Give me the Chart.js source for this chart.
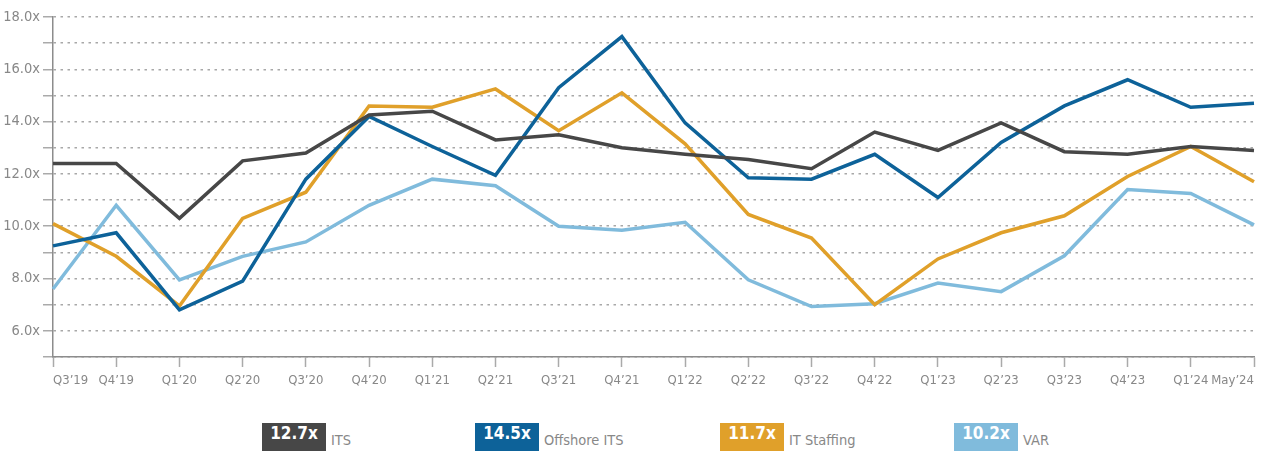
<!DOCTYPE html>
<html>
<head>
<meta charset="utf-8">
<script src="https://cdn.jsdelivr.net/npm/chart.js@4.4.1/dist/chart.umd.min.js"></script>
<style>
  html, body { margin: 0; padding: 0; background: #fff; }
  #wrap { position: relative; width: 1267px; height: 451px; }
  #box { position: absolute; left: 0; top: 0; width: 1267px; height: 400px; }
  #legend { position: absolute; left: 0; top: 423px; width: 1267px; height: 28px; }
  .item { position: absolute; top: 0; display: flex; align-items: center; height: 28px; }
  .val {
    width: 64px; height: 28px; line-height: 30px; text-align: center; color: #fff;
    font: bold 17px 'Liberation Sans Narrow', 'DejaVu Sans Condensed', Roboto, sans-serif;
  }
  .lbl {
    margin-left: 5px; padding-top: 5px; color: #888;
    font: 14.5px 'Liberation Sans Narrow', 'DejaVu Sans Condensed', Roboto, sans-serif;
  }
</style>
</head>
<body>
<div id="wrap">
  <div id="box"><canvas id="chart"></canvas></div>
  <div id="legend"></div>
</div>
<script>
// データ
var categories = ["Q3’19", "Q4’19", "Q1’20", "Q2’20", "Q3’20", "Q4’20", "Q1’21", "Q2’21", "Q3’21", "Q4’21",
                  "Q1’22", "Q2’22", "Q3’22", "Q4’22", "Q1’23", "Q2’23", "Q3’23", "Q4’23", "Q1’24", "May’24"];
var its      = [12.4, 12.4, 10.3, 12.5, 12.8, 14.25, 14.4, 13.3, 13.5, 13.0, 12.75, 12.55, 12.2, 13.6, 12.9, 13.95, 12.85, 12.75, 13.05, 12.9];
var offshore = [9.25, 9.75, 6.8, 7.9, 11.8, 14.2, 13.05, 11.95, 15.3, 17.25, 13.95, 11.85, 11.8, 12.75, 11.1, 13.2, 14.6, 15.6, 14.55, 14.7];
var staffing = [10.1, 8.85, 6.95, 10.3, 11.3, 14.6, 14.55, 15.25, 13.65, 15.1, 13.15, 10.45, 9.55, 7.0, 8.75, 9.75, 10.4, 11.9, 13.05, 11.7];
var varData  = [7.6, 10.8, 7.95, 8.85, 9.4, 10.8, 11.8, 11.55, 10.0, 9.85, 10.15, 7.95, 6.93, 7.04, 7.83, 7.5, 8.87, 11.4, 11.25, 10.05];

var seriesNames  = ['ITS', 'Offshore ITS', 'IT Staffing', 'VAR'];
var legendValues = ['12.7x', '14.5x', '11.7x', '10.2x'];

var colors = ['#474747', '#0d6299', '#e0a02a', '#80bbdc'];
var legendLeft = [262, 475, 720, 954];
var fontFamily = "'Liberation Sans Narrow', 'DejaVu Sans Condensed', Roboto, sans-serif";

// 凡例
var legend = document.getElementById('legend');
seriesNames.forEach(function(name, i) {
  var item = document.createElement('div');
  item.className = 'item';
  item.style.left = legendLeft[i] + 'px';
  item.innerHTML = '<div class="val" style="background:' + colors[i] + '">' + legendValues[i] + '</div>' +
                   '<div class="lbl">' + name + '</div>';
  legend.appendChild(item);
});

function line(label, data, color) {
  return {
    label: label,
    data: data,
    borderColor: color,
    backgroundColor: color,
    borderWidth: 3.5,
    borderJoinStyle: 'miter',
    pointRadius: 0,
    tension: 0,
    fill: false
  };
}

var context = document.getElementById('chart').getContext('2d');
var myChart = new Chart(context, {
  type: 'line',
  data: {
    labels: categories,
    datasets: [
      line(seriesNames[0], its, colors[0]),
      line(seriesNames[1], offshore, colors[1]),
      line(seriesNames[2], staffing, colors[2]),
      line(seriesNames[3], varData, colors[3])
    ]
  },
  options: {
    responsive: true,
    maintainAspectRatio: false,
    animation: false,
    layout: { padding: { top: 17, right: 13, left: 0, bottom: 0 } },
    plugins: { legend: { display: false }, tooltip: { enabled: false } },
    scales: {
      x: {
        offset: false,
        afterFit: function(scale) { scale.height = 43; },
        grid: { drawOnChartArea: false, drawTicks: true, tickLength: 10, tickColor: '#aaa', tickWidth: 1.5 },
        border: { display: true, color: '#8c8c8c', width: 1.5 },
        ticks: {
          autoSkip: false, maxRotation: 0, align: 'inner', padding: 6,
          color: '#888', font: { family: fontFamily, size: 13 }
        }
      },
      y: {
        min: 5,
        max: 18,
        afterFit: function(scale) { scale.width = 53; },
        grid: { color: '#a8a8a8', lineWidth: 1.5, drawTicks: true, tickLength: 10, tickColor: '#aaa', tickWidth: 1.5 },
        border: { display: true, color: '#8c8c8c', width: 1.5, dash: [2.5, 4.5] },
        ticks: {
          stepSize: 1, padding: 3, color: '#888', font: { family: fontFamily, size: 14.5 },
          callback: function(v) { return v % 2 === 0 ? v.toFixed(1) + 'x' : ''; }
        }
      }
    }
  }
});
</script>
</body>
</html>
